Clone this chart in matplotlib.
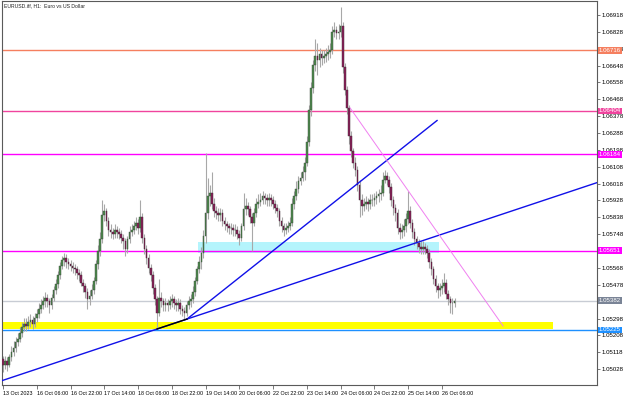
import numpy as np
import matplotlib.pyplot as plt

# EURUSD H1 candles, open of each bar = previous close
first_open = 1.0508
closes = [
    1.0505, 1.0507, 1.0505, 1.0509, 1.0512, 1.0514, 1.0517, 1.0519, 1.0522, 1.0525,
    1.0527, 1.0526, 1.0528, 1.0529, 1.0527, 1.0530, 1.0532, 1.0535, 1.0537, 1.0539,
    1.0541, 1.0539, 1.0537, 1.0541, 1.0545, 1.0548, 1.0553, 1.0558, 1.0561, 1.0562,
    1.0560, 1.0559, 1.0558, 1.0557, 1.0556, 1.0554, 1.0553, 1.0549, 1.0547, 1.0544,
    1.0540, 1.0542, 1.0545, 1.0550, 1.0559, 1.0566, 1.0572, 1.0585, 1.0587, 1.0582,
    1.0577, 1.0576, 1.0575, 1.0577, 1.0576, 1.0575, 1.0573, 1.0571, 1.0567, 1.0572,
    1.0576, 1.0577, 1.0579, 1.0581, 1.0578, 1.0584, 1.0573, 1.0567, 1.0562, 1.0557,
    1.0553, 1.0546, 1.0540, 1.0533, 1.0541, 1.0539, 1.0537, 1.0538, 1.0537, 1.0539,
    1.0540, 1.0538, 1.0537, 1.0538, 1.0535, 1.0534, 1.0533, 1.0537, 1.0539, 1.0540,
    1.0544, 1.0550, 1.0556, 1.0560, 1.0565, 1.0574, 1.0586, 1.0595, 1.0597, 1.0591,
    1.0587, 1.0586, 1.0585, 1.0586, 1.0582, 1.0580, 1.0579, 1.0578, 1.0578, 1.0577,
    1.0577, 1.0575, 1.0573, 1.0579, 1.0588, 1.0590, 1.0588, 1.0584, 1.0581, 1.0586,
    1.0591, 1.0592, 1.0593, 1.0595, 1.0594, 1.0593, 1.0594, 1.0593, 1.0591, 1.0589,
    1.0587, 1.0582, 1.0579, 1.0577, 1.0578, 1.0579, 1.0581, 1.0591, 1.0595, 1.0599,
    1.0603, 1.0605, 1.0608, 1.0613, 1.0624, 1.0641, 1.0653, 1.0665, 1.0670, 1.0668,
    1.0671, 1.0669, 1.0670, 1.0671, 1.0672, 1.0673, 1.0683, 1.0684, 1.0682, 1.0683,
    1.0686, 1.0664, 1.0652, 1.0642, 1.0627, 1.0619, 1.0613, 1.0609, 1.0601, 1.0593,
    1.0590, 1.0591, 1.0592, 1.0591, 1.0593, 1.0593, 1.0594, 1.0595, 1.0596, 1.0597,
    1.0604, 1.0606, 1.0604, 1.0600, 1.0593, 1.0589, 1.0586, 1.0578, 1.0576, 1.0577,
    1.0579, 1.0583, 1.0587, 1.0581, 1.0576, 1.0572, 1.0570, 1.0568, 1.0567, 1.0568,
    1.0567, 1.0565, 1.0560, 1.0556, 1.0551, 1.0547, 1.0545, 1.0546, 1.0547, 1.0549,
    1.0543, 1.0540, 1.0538, 1.0538, 1.0539,
]
highs = [
    1.0510, 1.0510, 1.0509, 1.0511, 1.0515, 1.0518, 1.0520, 1.0522, 1.0525, 1.0528,
    1.0530, 1.0530, 1.0531, 1.0532, 1.0531, 1.0533, 1.0535, 1.0538, 1.0540, 1.0542,
    1.0544, 1.0543, 1.0541, 1.0543, 1.0547, 1.0551, 1.0555, 1.0560, 1.0563, 1.0565,
    1.0564, 1.0562, 1.0561, 1.0560, 1.0559, 1.0558, 1.0556, 1.0555, 1.0551, 1.0549,
    1.0546, 1.0545, 1.0548, 1.0552, 1.0561, 1.0569, 1.0576, 1.0593, 1.0591, 1.0589,
    1.0584, 1.0580, 1.0578, 1.0580, 1.0579, 1.0578, 1.0577, 1.0575, 1.0573, 1.0574,
    1.0579, 1.0580, 1.0582, 1.0584, 1.0583, 1.0593, 1.0586, 1.0575, 1.0569, 1.0564,
    1.0559, 1.0555, 1.0548, 1.0542, 1.0551, 1.0544, 1.0541, 1.0541, 1.0540, 1.0542,
    1.0543, 1.0542, 1.0540, 1.0541, 1.0540, 1.0537, 1.0536, 1.0539, 1.0542, 1.0543,
    1.0547, 1.0552, 1.0558, 1.0563, 1.0568, 1.0577, 1.0618, 1.0605, 1.0601, 1.0608,
    1.0594, 1.0590, 1.0589, 1.0589, 1.0588, 1.0584, 1.0582, 1.0581, 1.0581, 1.0580,
    1.0580, 1.0579, 1.0577, 1.0581, 1.0597, 1.0594, 1.0592, 1.0590, 1.0586, 1.0589,
    1.0594, 1.0596, 1.0597, 1.0598, 1.0597, 1.0596, 1.0597, 1.0596, 1.0595, 1.0593,
    1.0591, 1.0589, 1.0584, 1.0581, 1.0581, 1.0582, 1.0584, 1.0594, 1.0598, 1.0603,
    1.0606, 1.0608, 1.0611, 1.0616, 1.0627, 1.0644, 1.0656, 1.0668, 1.0679, 1.0677,
    1.0674, 1.0673, 1.0673, 1.0674, 1.0676, 1.0677, 1.0686, 1.0688, 1.0686, 1.0687,
    1.0696, 1.0688, 1.0666, 1.0654, 1.0644, 1.0630, 1.0621, 1.0616, 1.0611, 1.0604,
    1.0596, 1.0594, 1.0595, 1.0594, 1.0596, 1.0596, 1.0597, 1.0598, 1.0599, 1.0601,
    1.0608, 1.0609, 1.0608, 1.0606, 1.0602, 1.0595, 1.0591, 1.0588, 1.0581, 1.0580,
    1.0583, 1.0586, 1.0598, 1.0590, 1.0583, 1.0578, 1.0574, 1.0572, 1.0571, 1.0571,
    1.0570, 1.0569, 1.0567, 1.0562, 1.0558, 1.0553, 1.0549, 1.0549, 1.0551, 1.0554,
    1.0551, 1.0545, 1.0542, 1.0541, 1.0541,
]
lows = [
    1.0501, 1.0503, 1.0502, 1.0504, 1.0507, 1.0510, 1.0512, 1.0515, 1.0517, 1.0520,
    1.0523, 1.0523, 1.0524, 1.0525, 1.0524, 1.0525, 1.0528, 1.0530, 1.0533, 1.0535,
    1.0536, 1.0536, 1.0533, 1.0535, 1.0539, 1.0543, 1.0546, 1.0551, 1.0556, 1.0558,
    1.0557, 1.0556, 1.0555, 1.0554, 1.0553, 1.0551, 1.0550, 1.0547, 1.0544, 1.0541,
    1.0535, 1.0537, 1.0540, 1.0543, 1.0548, 1.0556, 1.0563, 1.0570, 1.0582, 1.0579,
    1.0574, 1.0573, 1.0572, 1.0573, 1.0573, 1.0572, 1.0570, 1.0567, 1.0563, 1.0565,
    1.0570, 1.0574, 1.0575, 1.0577, 1.0575, 1.0576, 1.0570, 1.0564, 1.0559, 1.0554,
    1.0550, 1.0543, 1.0537, 1.0524, 1.0531, 1.0536, 1.0534, 1.0534, 1.0534, 1.0535,
    1.0536, 1.0535, 1.0534, 1.0534, 1.0532, 1.0531, 1.0529, 1.0531, 1.0535, 1.0536,
    1.0538, 1.0542, 1.0548, 1.0554, 1.0556, 1.0562, 1.0570, 1.0583, 1.0590, 1.0588,
    1.0584, 1.0583, 1.0582, 1.0582, 1.0579, 1.0577, 1.0576, 1.0575, 1.0575, 1.0574,
    1.0574, 1.0572, 1.0569, 1.0571, 1.0577, 1.0585, 1.0585, 1.0581, 1.0566, 1.0579,
    1.0584, 1.0589, 1.0590, 1.0591, 1.0591, 1.0590, 1.0590, 1.0590, 1.0588, 1.0586,
    1.0584, 1.0579, 1.0576, 1.0574, 1.0575, 1.0576, 1.0577, 1.0579, 1.0588, 1.0593,
    1.0597, 1.0601, 1.0603, 1.0604, 1.0611, 1.0622, 1.0638, 1.0650, 1.0662, 1.0660,
    1.0664, 1.0665, 1.0666, 1.0667, 1.0668, 1.0669, 1.0671, 1.0680, 1.0679, 1.0679,
    1.0680, 1.0661, 1.0649, 1.0639, 1.0623, 1.0616, 1.0610, 1.0606, 1.0598, 1.0584,
    1.0585, 1.0587, 1.0588, 1.0587, 1.0588, 1.0590, 1.0590, 1.0591, 1.0592, 1.0593,
    1.0595, 1.0602, 1.0601, 1.0597, 1.0590, 1.0585, 1.0582, 1.0575, 1.0572, 1.0573,
    1.0574, 1.0576, 1.0580, 1.0578, 1.0573, 1.0569, 1.0567, 1.0565, 1.0564, 1.0564,
    1.0564, 1.0562, 1.0557, 1.0553, 1.0548, 1.0544, 1.0541, 1.0542, 1.0543, 1.0544,
    1.0540, 1.0537, 1.0533, 1.0532, 1.0536,
]

time_labels = ['13 Oct 2023', '16 Oct 06:00', '16 Oct 22:00', '17 Oct 14:00',
               '18 Oct 06:00', '18 Oct 22:00', '19 Oct 14:00', '20 Oct 06:00',
               '22 Oct 22:00', '23 Oct 14:00', '24 Oct 06:00', '24 Oct 22:00',
               '25 Oct 14:00', '26 Oct 06:00']
bars_per_label = 16

price_ticks = [1.05028, 1.05118, 1.05208, 1.05298, 1.05388, 1.05478, 1.05568,
               1.05658, 1.05748, 1.05838, 1.05928, 1.06018, 1.06108, 1.06198,
               1.06288, 1.06378, 1.06468, 1.06558, 1.06648, 1.06738, 1.06828,
               1.06918]
# scale values that sit under a level label on the chart
hidden_ticks = [1.05388, 1.05658]

# horizontal levels: where the line sits, the text of its price box, colours
level_prices = [1.06729, 1.06406, 1.06174, 1.05661, 1.05394, 1.05237]
level_texts = ['1.06716', '1.06404', '1.06184', '1.05651', '1.05382', '1.05225']
level_colors = ['#f57f5f', '#f0449e', '#ff00ff', '#ff00ff', '#c8ccd4', '#1e90ff']
level_box = ['#f57f5f', '#f0449e', '#ff00ff', '#ff00ff', '#7a8496', '#1e90ff']

# trend lines as (bar, price) anchors
trend_long = [(0.5, 1.04970), (87.2, 1.05295)]     # ray to the right edge
trend_steep = [(87.2, 1.05295), (205.7, 1.06355)]
trend_black = [(73.0, 1.05242), (87.2, 1.05295)]
trend_pink = [(164.5, 1.06422), (237.0, 1.05258)]

# zones: (bar from, bar to, price low, price high)
zone_yellow = (-0.5, 260.7, 1.05240, 1.05281)
zone_cyan = (92.4, 206.6, 1.05646, 1.05708)

fig = plt.figure(figsize=(6.25, 3.97), dpi=100)
ax = fig.add_axes([2 / 625, 1 - 385 / 397, 595 / 625, 384 / 397])

n = len(closes)
x = np.arange(n)
c = np.array(closes)
o = np.r_[first_open, c[:-1]]
up = c >= o

# zones first
ax.add_patch(plt.Rectangle((zone_yellow[0], zone_yellow[2]), zone_yellow[1] - zone_yellow[0],
                           zone_yellow[3] - zone_yellow[2], color='#ffff00', lw=0, zorder=0))
ax.add_patch(plt.Rectangle((zone_cyan[0], zone_cyan[2]), zone_cyan[1] - zone_cyan[0],
                           zone_cyan[3] - zone_cyan[2], color='#b4f4fc', lw=0, zorder=0))

# candles
ax.vlines(x, lows, highs, color='#a8a8a8', lw=0.8, zorder=2)
body_lo = np.minimum(o, c)
body_h = np.maximum(np.abs(c - o), 0.00002)
ax.bar(x[up], body_h[up], bottom=body_lo[up], width=0.8, color='#4e8a4e',
       edgecolor='#3a4a3a', lw=0.3, zorder=3)
ax.bar(x[~up], body_h[~up], bottom=body_lo[~up], width=0.8, color='#8c1f5a',
       edgecolor='#3a2a30', lw=0.3, zorder=3)

# levels
for p, col in zip(level_prices, level_colors):
    ax.axhline(p, color=col, lw=1.0, zorder=1.5)

# trend lines
ax.axline(trend_long[0], trend_long[1], color='#1010e8', lw=1.0, zorder=4)
ax.plot(*zip(*trend_steep), color='#1010e8', lw=1.0, zorder=4)
ax.plot(*zip(*trend_black), color='black', lw=1.0, zorder=4.5)
ax.plot(*zip(*trend_pink), color='#f080f0', lw=0.7, zorder=4)

ax.set_xlim(-0.47, 281.5)
ax.set_ylim(1.04943, 1.06993)

ax.set_xticks(np.arange(len(time_labels)) * bars_per_label)
ax.set_xticklabels(time_labels, ha='left', fontsize=3.9, family='Liberation Sans')
ax.tick_params(axis='x', direction='out', length=3, width=0.5, pad=1, color='#444444')

ax.yaxis.tick_right()
ax.set_yticks(price_ticks)
ax.set_yticklabels(['' if p in hidden_ticks else '%.5f' % p for p in price_ticks],
                   fontsize=4.4, family='Liberation Sans')
ax.tick_params(axis='y', direction='out', length=2.5, width=0.5, pad=1, color='#444444')

for s in ax.spines.values():
    s.set_color('#5a5a5a')
    s.set_linewidth(0.8)

# price labels of the levels on the scale
for p, t, col in zip(level_prices, level_texts, level_box):
    ax.text(1.003, p, t, transform=ax.get_yaxis_transform(), ha='left', va='center',
            fontsize=4.4, family='Liberation Sans', color='white', clip_on=False, zorder=10,
            bbox=dict(boxstyle='square,pad=0.15', fc=col, ec='none'))

ax.text(0.003, 0.993, 'EURUSD.iff, H1:  Euro vs US Dollar', transform=ax.transAxes,
        ha='left', va='top', fontsize=3.7, family='Liberation Sans', color='#222222')

fig.savefig('out.png', dpi=100)
